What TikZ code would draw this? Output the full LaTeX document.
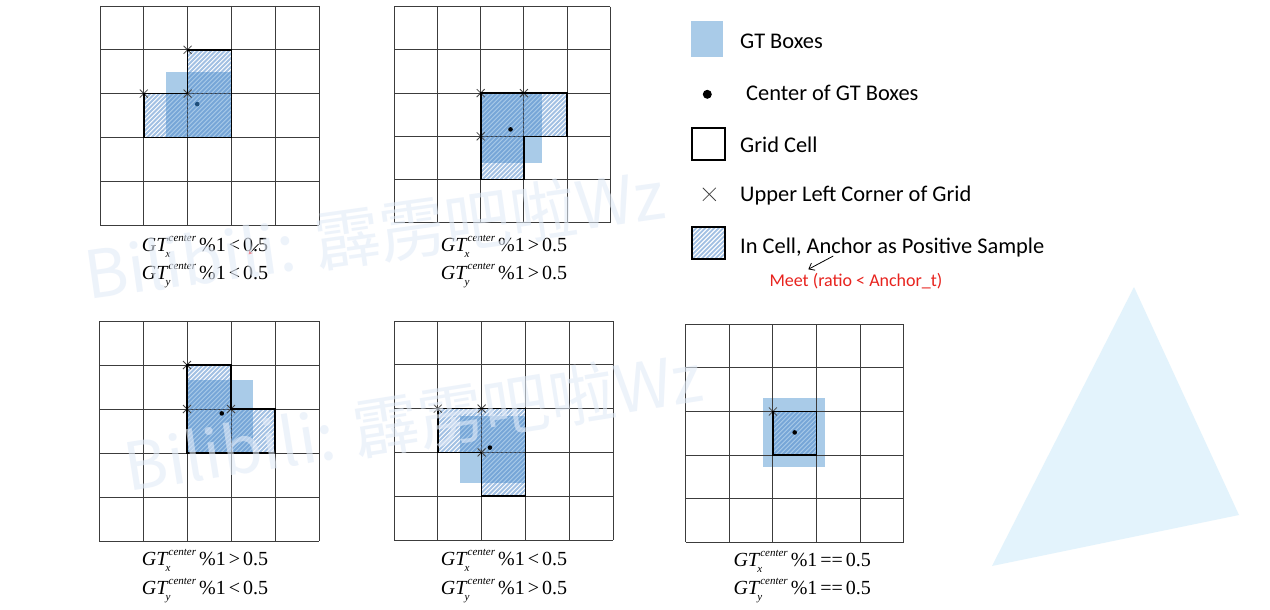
\documentclass[tikz,border=0pt]{standalone}
\usepackage{fontspec}
\setmainfont{Liberation Serif}
\newfontfamily\legendfont{Carlito}
\newfontfamily\wmfont{Noto Sans CJK SC}
\usetikzlibrary{arrows.meta}
\definecolor{gtblue}{RGB}{169,203,232}
\definecolor{hatchblue}{RGB}{70,130,200}
\definecolor{gridgray}{RGB}{60,60,60}
\definecolor{crossgray}{RGB}{70,70,70}
\definecolor{meetred}{RGB}{232,35,30}
\definecolor{wmblue}{RGB}{226,235,248}
\definecolor{trifill}{RGB}{227,243,252}
\definecolor{navydot}{RGB}{31,78,121}
\tikzset{
  gridln/.style={draw=gridgray, line width=0.9pt},
  gtbox/.style={fill=gtblue},
  hatchln/.style={draw=hatchblue, draw opacity=0.5, line width=1.8pt},
  posout/.style={draw=black, line width=1.6pt, line join=miter},
  xmk/.style={draw=crossgray, line width=0.8pt},
  lgtext/.style={font=\legendfont\fontsize{22.4}{26}\selectfont, anchor=base west, inner sep=0pt},
  redtext/.style={font=\legendfont\fontsize{18}{22}\selectfont, text=meetred, anchor=base west, inner sep=0pt},
  mlabel/.style={font=\fontsize{20}{24}\selectfont, anchor=base west, inner sep=0pt},
  wmark/.style={font=\wmfont\fontsize{66}{70}\selectfont, text=wmblue, text opacity=0.6, anchor=base west, inner sep=0pt},
}
\newcommand\gtlabel[3]{\textit{GT}\rlap{\kern-3pt\raisebox{-0.3em}{\fontsize{11}{11}\selectfont\textit{#1}}}\raisebox{0.5em}{\fontsize{11}{11}\selectfont\textit{center}}\kern3pt\%1\kern3pt#2\kern3pt#3}
\newcommand\cornerx[2][4pt]{\draw[xmk] (#2) ++(-#1,-#1) -- ++(2*#1,2*#1) (#2) ++(-#1,#1) -- ++(2*#1,-2*#1);}
\newcommand\hatchfill[1]{\begin{scope}\clip #1;\foreach \k in {-60,...,60} {\draw[hatchln] ([xshift=\k*4.5pt]0,5) -- ++(300pt,300pt);}\end{scope}}
\newcommand\panelgrid{\foreach \i in {0,...,5} {\draw[gridln] (\i,0) -- (\i,5); \draw[gridln] (0,\i) -- (5,\i);}}
\begin{document}
\begin{tikzpicture}[x=1pt,y=-1pt]
\useasboundingbox (0,0) rectangle (1270,610);
\fill[white] (0,0) rectangle (1270,610);
% decorative triangle
\fill[trifill] (1134,287) -- (992,566) -- (1239,515) -- cycle;

% ---------- Panel 1 ----------
\begin{scope}[shift={(100,6)}, x=43.8pt, y=-43.8pt]
  \fill[gtbox] (1.5,1.5) rectangle (3,3);
  \panelgrid
  \hatchfill{(2,1) -- (3,1) -- (3,3) -- (1,3) -- (1,2) -- (2,2) -- cycle}
  \cornerx{2,1}\cornerx{1,2}\cornerx{2,2}
  \draw[posout] (2,1) -- (3,1) -- (3,3) -- (1,3) -- (1,2) -- (2,2) -- cycle;
  \fill[navydot] (2.22,2.24) circle (2.3pt);
\end{scope}
\node[mlabel] (l1a) at (141.7,251) {\gtlabel{x}{<}{0.5}};
\node[mlabel] (l1b) at (141.7,279.5) {\gtlabel{y}{<}{0.5}};
\coordinate (ca1) at (258.5,244);
\coordinate (ca2) at (248.5,254.5);
\draw[line width=0.7pt, -{Stealth[length=4pt,width=4pt,color=red]}] (ca1) -- (ca2);

% ---------- Panel 2 ----------
\begin{scope}[shift={(394.3,6.7)}, x=43.2pt, y=-43.2pt]
  \fill[gtbox] (2,2) rectangle (3.41,3.62);
  \panelgrid
  \hatchfill{(2,2) -- (4,2) -- (4,3) -- (3,3) -- (3,4) -- (2,4) -- cycle}
  \cornerx{2,2}\cornerx{3,2}\cornerx{2,3}
  \draw[posout] (2,2) -- (4,2) -- (4,3) -- (3,3) -- (3,4) -- (2,4) -- cycle;
  \fill[black] (2.69,2.84) circle (2.3pt);
\end{scope}
\node[mlabel] (l2a) at (440.7,251) {\gtlabel{x}{>}{0.5}};
\node[mlabel] (l2b) at (440.7,279.5) {\gtlabel{y}{>}{0.5}};

% ---------- Panel 4 ----------
\begin{scope}[shift={(99,321)}, x=44pt, y=-44pt]
  \fill[gtbox] (2,1.35) rectangle (3.5,3);
  \panelgrid
  \hatchfill{(2,1) -- (3,1) -- (3,2) -- (4,2) -- (4,3) -- (2,3) -- cycle}
  \cornerx{2,1}\cornerx{2,2}\cornerx{3,2}
  \draw[posout] (2,1) -- (3,1) -- (3,2) -- (4,2) -- (4,3) -- (2,3) -- cycle;
  \fill[black] (2.79,2.1) circle (2.3pt);
\end{scope}
\node[mlabel] (l4a) at (141.7,565) {\gtlabel{x}{>}{0.5}};
\node[mlabel] (l4b) at (141.7,594) {\gtlabel{y}{<}{0.5}};

% ---------- Panel 5 ----------
\begin{scope}[shift={(394,321)}, x=43.8pt, y=-43.8pt]
  \fill[gtbox] (1.5,2.18) rectangle (3,3.69);
  \panelgrid
  \hatchfill{(1,2) -- (3,2) -- (3,4) -- (2,4) -- (2,3) -- (1,3) -- cycle}
  \cornerx{1,2}\cornerx{2,2}\cornerx{2,3}
  \draw[posout] (1,2) -- (3,2) -- (3,4) -- (2,4) -- (2,3) -- (1,3) -- cycle;
  \fill[black] (2.19,2.89) circle (2.3pt);
\end{scope}
\node[mlabel] (l5a) at (440.7,565) {\gtlabel{x}{<}{0.5}};
\node[mlabel] (l5b) at (440.7,594) {\gtlabel{y}{>}{0.5}};

% ---------- Panel 6 ----------
\begin{scope}[shift={(685.7,324.3)}, x=43.6pt, y=-43.6pt]
  \fill[gtbox] (1.78,1.7) rectangle (3.2,3.28);
  \panelgrid
  \hatchfill{(2,2) -- (3,2) -- (3,3) -- (2,3) -- cycle}
  \cornerx{2,2}
  \draw[posout] (2,2) rectangle (3,3);
  \fill[black] (2.5,2.48) circle (2.3pt);
\end{scope}
\node[mlabel] (l6a) at (733.3,566.5) {\gtlabel{x}{==}{0.5}};
\node[mlabel] (l6b) at (733.3,594) {\gtlabel{y}{==}{0.5}};

% ---------- Legend ----------
\fill[gtbox] (691,21) rectangle (723,57);
\node[lgtext] (lg1) at (740,49) {GT Boxes};
\fill[black] (707.3,94.3) circle (4.5pt);
\node[lgtext] (lg2) at (746,100.7) {Center of GT Boxes};
\draw[black, line width=1.8pt] (692.3,127.7) rectangle (725,160);
\node[lgtext] (lg3) at (740,152.3) {Grid Cell};
\cornerx[6.5pt]{709.3,194.3}
\node[lgtext] (lg4) at (740,201.7) {Upper Left Corner of Grid};
\begin{scope}
  \clip (692.3,227) rectangle (725,259);
  \foreach \k in {-12,...,12} {\draw[hatchln] ([xshift=\k*4.5pt]692.3,259) -- ++(60pt,60pt);}
\end{scope}
\draw[black, line width=1.8pt] (692.3,227) rectangle (725,259);
\node[lgtext] (lg5) at (740,253.3) {In Cell, Anchor as Positive Sample};
\node[redtext] (meet) at (769.3,286.7) {Meet (ratio < Anchor\_t)};
\coordinate (arrS) at (833.3,256);
\coordinate (arrE) at (808.3,269.3);
\draw[line width=0.8pt, -{Straight Barb[length=5pt,width=8pt]}] (arrS) -- (arrE);

% ---------- Watermarks ----------
\node[wmark, rotate=8] (wm1) at (88,300) {Bilibili: 霹雳吧啦Wz};
\node[wmark, rotate=9] (wm2) at (128,492) {Bilibili: 霹雳吧啦Wz};
\end{tikzpicture}
\end{document}
